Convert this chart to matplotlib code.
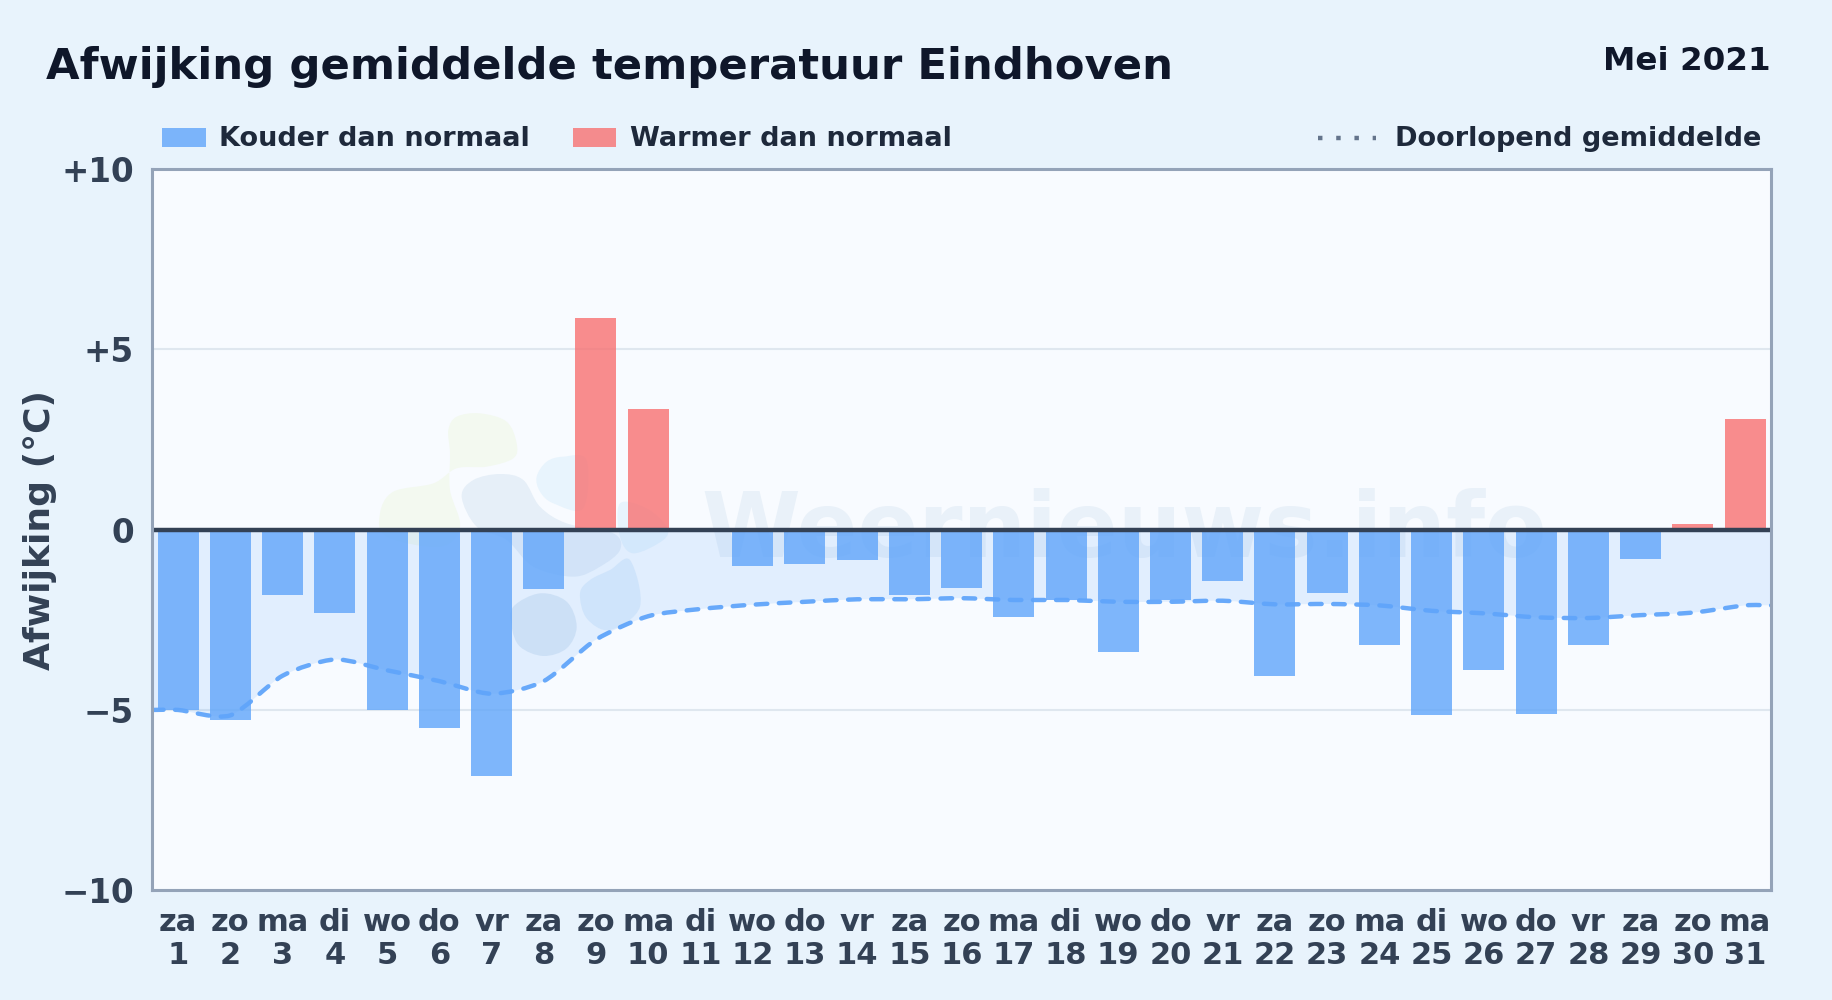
import numpy as np
import matplotlib
matplotlib.use("Agg")
import matplotlib.pyplot as plt
from matplotlib.patches import PathPatch, Rectangle
from matplotlib.path import Path
from matplotlib.lines import Line2D

W, H = 1832, 1000

# data
days = list(range(1, 32))
weekdays = ["za", "zo", "ma", "di", "wo", "do", "vr", "za", "zo", "ma", "di", "wo", "do", "vr", "za", "zo",
            "ma", "di", "wo", "do", "vr", "za", "zo", "ma", "di", "wo", "do", "vr", "za", "zo", "ma"]
afwijking = [-5.0, -5.27, -1.82, -2.3, -5.0, -5.5, -6.82, -1.65, 5.87, 3.34, 0.0, -1.0, -0.95, -0.85, -1.82, -1.62,
             -2.43, -1.95, -3.4, -1.95, -1.43, -4.05, -1.75, -3.2, -5.15, -3.9, -5.1, -3.2, -0.8, 0.15, 3.08]
gemiddelde = [-5.0, -5.15, -4.05, -3.6, -3.9, -4.2, -4.55, -4.2, -3.05, -2.4, -2.2, -2.08, -2.0, -1.93, -1.93, -1.9,
              -1.95, -1.95, -2.0, -2.0, -1.97, -2.07, -2.06, -2.1, -2.25, -2.32, -2.43, -2.45, -2.37, -2.3, -2.1]
yticks = [-10, -5, 0, 5, 10]
yticklabels = ["\u221210", "\u22125", "0", "+5", "+10"]

BLUE = "#60a5fa"
RED = "#f87171"

# watermark blobs, outlines in pixels of a crop of the picture (3x, origin 300,380)
blobs = [
    ("#f3f9f0", [(445, 150), (470, 110), (540, 100), (620, 125), (650, 190), (640, 235), (560, 260), (470, 265),
                 (400, 310), (280, 335), (240, 400), (260, 470), (420, 500), (480, 440), (450, 330), (450, 220)]),
    ("#e6eff8", [(485, 350), (520, 300), (600, 282), (670, 300), (720, 380), (800, 430), (940, 460), (960, 510),
                 (900, 560), (820, 590), (700, 560), (620, 480), (530, 440)]),
    ("#e8f4fd", [(710, 290), (740, 245), (790, 230), (860, 240), (850, 385), (760, 370), (720, 335)]),
    ("#e0ebf6", [(640, 680), (720, 640), (800, 665), (830, 740), (800, 805), (730, 828), (660, 800), (635, 740)]),
    ("#e3f0fc", [(840, 640), (870, 600), (930, 570), (990, 540), (1020, 680), (930, 750), (860, 715)]),
    ("#e8f4fd", [(960, 370), (1040, 385), (1100, 440), (1090, 480), (1000, 520), (960, 470)]),
]


def px(x, y):
    return x / W, 1 - y / H


def smooth_path(x, y, t=0.13):
    # bezier through the points with short handles
    x = np.asarray(x, float)
    y = np.asarray(y, float)
    dx = np.gradient(x) * 2
    dy = np.r_[y[1] - y[0], y[2:] - y[:-2], y[-1] - y[-2]]
    verts = [(x[0], y[0])]
    codes = [Path.MOVETO]
    for i in range(len(x) - 1):
        verts += [(x[i] + t * dx[i], y[i] + t * dy[i]),
                  (x[i + 1] - t * dx[i + 1], y[i + 1] - t * dy[i + 1]),
                  (x[i + 1], y[i + 1])]
        codes += [Path.CURVE4] * 3
    return verts, codes


def blob_patch(points, color):
    pts = np.array([px(300 + a / 3, 380 + b / 3) for a, b in points])
    n = len(pts)
    verts = [tuple(pts[0])]
    codes = [Path.MOVETO]
    for i in range(n):
        p0, p1, p2, p3 = pts[i - 1], pts[i], pts[(i + 1) % n], pts[(i + 2) % n]
        verts += [tuple(p1 + (p2 - p0) / 6), tuple(p2 - (p3 - p1) / 6), tuple(p2)]
        codes += [Path.CURVE4] * 3
    return PathPatch(Path(verts, codes), transform=fig.transFigure, fc=color, ec="none", zorder=0.5)


plt.rcParams["font.family"] = "DejaVu Sans"
plt.rcParams["font.weight"] = "bold"

fig = plt.figure(figsize=(W / 100, H / 100), dpi=100, facecolor="#e8f3fc")
ax = fig.add_axes([152 / W, 1 - 890.2 / H, 1619.2 / W, 721 / H], facecolor="#f8fbff")

ax.set_xlim(0.5, 31.5)
ax.set_ylim(-10, 10)

for color, pts in blobs:
    ax.add_patch(blob_patch(pts, color))
ax.text(0.339, 0.497, "Weernieuws.info", transform=ax.transAxes, fontsize=64.5, color="#e9f1f9",
        ha="left", va="center", zorder=0.6)

ax.grid(axis="y", color="#dfe7ef", lw=1.5, zorder=1)
ax.set_axisbelow(True)

# running mean, flat out to both edges
line_x = [ax.get_xlim()[0]] + days + [ax.get_xlim()[1]]
line_y = [gemiddelde[0]] + gemiddelde + [gemiddelde[-1]]
verts, codes = smooth_path(line_x, line_y)
fill_verts = verts + [(line_x[-1], 0), (line_x[0], 0), verts[0]]
fill_codes = codes + [Path.LINETO, Path.LINETO, Path.CLOSEPOLY]
ax.add_patch(PathPatch(Path(fill_verts, fill_codes), fc=BLUE, alpha=0.15, ec="none", zorder=1.5))

colors = [RED if v > 0 else BLUE for v in afwijking]
ax.bar(days, afwijking, width=0.785, color=colors, alpha=0.8, zorder=2)

ax.add_patch(PathPatch(Path(verts, codes), fc="none", ec=BLUE, lw=3.2, alpha=0.95, zorder=3,
                       linestyle=(0, (2.6, 2.6)), capstyle="round"))
ax.axhline(0, color="#334155", lw=3.2, zorder=4)

for s in ax.spines.values():
    s.set_color("#94a3b8")
    s.set_linewidth(2.2)
    s.set_zorder(5)

ax.set_yticks(yticks, yticklabels)
ax.set_xticks(days, [f"{w}\n{d}" for w, d in zip(weekdays, days)])
ax.tick_params(axis="both", length=0, labelcolor="#334155")
ax.tick_params(axis="x", pad=13, labelsize=22)
ax.tick_params(axis="y", pad=13, labelsize=23.5)
for lab in ax.get_xticklabels():
    lab.set_linespacing(1.16)
fig.text(*px(40, 530), "Afwijking (\u00b0C)", rotation=90, fontsize=26, color="#334155", ha="center", va="center")

fig.text(*px(46, 67), "Afwijking gemiddelde temperatuur Eindhoven", fontsize=31.25, color="#0f172a", ha="left", va="center")
fig.text(*px(1771, 62), "Mei 2021", fontsize=23.4, color="#0f172a", ha="right", va="center")

# legend
fig.add_artist(Rectangle(px(162, 147), 44 / W, 19 / H, transform=fig.transFigure, fc=BLUE, alpha=0.8, ec="none"))
fig.text(*px(219, 139), "Kouder dan normaal", fontsize=19.5, color="#1e293b", ha="left", va="center")
fig.add_artist(Rectangle(px(573, 147), 43 / W, 19 / H, transform=fig.transFigure, fc=RED, alpha=0.8, ec="none"))
fig.text(*px(630, 139), "Warmer dan normaal", fontsize=19.5, color="#1e293b", ha="left", va="center")
fig.add_artist(Line2D([1318 / W, 1376 / W], [1 - 138 / H, 1 - 138 / H], transform=fig.transFigure, color="#64748b",
                      lw=3.2, linestyle=(0, (1, 3.1))))
fig.text(*px(1761, 139), "Doorlopend gemiddelde", fontsize=19.5, color="#1e293b", ha="right", va="center")

fig.savefig("out.png", dpi=100, facecolor=fig.get_facecolor())
